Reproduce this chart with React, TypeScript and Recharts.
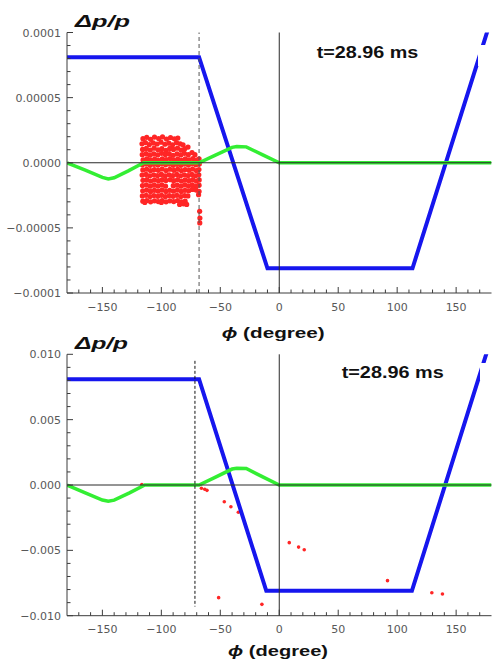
import React from "react";
import { ComposedChart, Line, Scatter, XAxis, YAxis, ReferenceLine } from "recharts";

// ---------------- axis ticks ----------------
const phiTicks = [
  -170, -160, -150, -140, -130, -120, -110, -100, -90, -80, -70, -60, -50, -40, -30, -20, -10,
  0, 10, 20, 30, 40, 50, 60, 70, 80, 90, 100, 110, 120, 130, 140, 150, 160, 170,
];
const phiMajor = [-150, -100, -50, 0, 50, 100, 150];
const phiLabels = ["−150", "−100", "−50", "0", "50", "100", "150"];

const topYTicks = [
  -0.0001, -0.00009, -0.00008, -0.00007, -0.00006, -0.00005, -0.00004, -0.00003, -0.00002, -0.00001,
  0, 0.00001, 0.00002, 0.00003, 0.00004, 0.00005, 0.00006, 0.00007, 0.00008, 0.00009, 0.0001,
];
const topYMajor = [-0.0001, -0.00005, 0, 0.00005, 0.0001];
const topYLabels = ["−0.0001", "−0.00005", "0.0000", "0.00005", "0.0001"];

const botYTicks = [
  -0.01, -0.009, -0.008, -0.007, -0.006, -0.005, -0.004, -0.003, -0.002, -0.001,
  0, 0.001, 0.002, 0.003, 0.004, 0.005, 0.006, 0.007, 0.008, 0.009, 0.01,
];
const botYMajor = [-0.01, -0.005, 0, 0.005, 0.01];
const botYLabels = ["−0.010", "−0.005", "0.000", "0.005", "0.010"];

// ---------------- top panel data (Δp/p) ----------------
const blueTopPhi = [-180, -68, -10, 113, 180];
const blueTopDpp = [0.000081, 0.000081, -0.000081, -0.000081, 0.000111];

const greenTopPhi = [-180, -165, -150, -145, -140, -128, -115, -68, -55, -40, -36, -28, -14, 0, 180];
const greenTopDpp = [
  0, -0.0000055, -0.0000112, -0.0000124, -0.0000115, -0.0000062, 0, 0, 0.0000055, 0.0000118,
  0.0000125, 0.0000122, 0.000006, 0, 0,
];

// red particles, [phi (deg), Δp/p × 1e5]
const redTopE5: [number, number][] = [
  [-115.6, 1.85], [-112.4, 1.95], [-109.1, 1.8], [-105.8, 1.97], [-102.3, 1.86], [-99, 1.98], [-95.6, 1.82], [-92.2, 1.94], [-88.9, 1.84], [-86, 1.9],
  [-116.4, 1.45], [-113.5, 1.55], [-110.2, 1.4], [-106.9, 1.52], [-103.6, 1.44], [-100.3, 1.58], [-97, 1.42], [-93.6, 1.5], [-90.4, 1.38], [-87.1, 1.55], [-84, 1.45], [-81.6, 1.38],
  [-115.9, 1.02], [-112.7, 1.1], [-109.4, 0.98], [-106.1, 1.12], [-102.8, 1.0], [-99.6, 1.08], [-96.2, 0.95], [-92.9, 1.1], [-89.7, 1.02], [-86.3, 1.12], [-83.2, 0.98], [-80.1, 1.08], [-77.4, 1.2],
  [-116.2, 0.62], [-112.9, 0.7], [-109.7, 0.58], [-106.4, 0.68], [-103.1, 0.6], [-99.8, 0.72], [-96.5, 0.64], [-93.3, 0.7], [-90, 0.57], [-86.7, 0.68], [-83.5, 0.6], [-80.4, 0.72], [-77.1, 0.62], [-74, 0.78], [-71.5, 0.62],
  [-115.5, 0.22], [-112.3, 0.3], [-109, 0.2], [-105.7, 0.28], [-102.5, 0.18], [-99.2, 0.3], [-95.9, 0.24], [-92.6, 0.32], [-89.4, 0.2], [-86.1, 0.28], [-82.9, 0.18], [-79.7, 0.3], [-76.5, 0.22], [-73.3, 0.32], [-70.2, 0.2], [-68, 0.3],
  [-116.1, -0.15], [-112.8, -0.1], [-109.5, -0.2], [-106.2, -0.12], [-102.9, -0.18], [-99.7, -0.08], [-96.4, -0.16], [-93.1, -0.1], [-89.9, -0.2], [-86.6, -0.12], [-83.4, -0.2], [-80.2, -0.1], [-77, -0.18], [-73.8, -0.08], [-70.7, -0.16], [-67.8, -0.1],
  [-115.7, -0.55], [-112.5, -0.5], [-109.2, -0.6], [-105.9, -0.52], [-102.6, -0.58], [-99.3, -0.48], [-96, -0.6], [-92.8, -0.5], [-89.5, -0.58], [-86.2, -0.5], [-83, -0.6], [-79.8, -0.52], [-76.6, -0.58], [-73.5, -0.48], [-70.4, -0.6], [-68.1, -0.52],
  [-116.3, -0.95], [-113, -0.9], [-109.8, -1.0], [-106.5, -0.92], [-103.2, -0.98], [-99.9, -0.9], [-96.7, -1.0], [-93.4, -0.92], [-90.2, -0.98], [-86.9, -0.9], [-83.7, -1.0], [-80.5, -0.92], [-77.3, -0.98], [-74.1, -0.9], [-71, -1.0], [-68.2, -0.92],
  [-115.6, -1.35], [-112.4, -1.3], [-109.1, -1.4], [-105.8, -1.32], [-102.5, -1.38], [-99.2, -1.3], [-96.1, -1.36], [-92.4, -1.3], [-89.5, -1.38], [-86.2, -1.3], [-83, -1.4], [-79.8, -1.32], [-76.6, -1.38], [-73.4, -1.3], [-70.3, -1.4], [-67.9, -1.32],
  [-116, -1.75], [-112.7, -1.7], [-109.4, -1.8], [-106.1, -1.72], [-102.9, -1.78], [-99.6, -1.7], [-96.4, -1.8], [-89.9, -1.76], [-86.6, -1.72], [-83.3, -1.8], [-80.1, -1.7], [-77, -1.78], [-73.8, -1.7], [-70.6, -1.8], [-68, -1.72],
  [-115.8, -2.15], [-112.5, -2.1], [-109.2, -2.2], [-105.9, -2.12], [-102.7, -2.18], [-99.4, -2.1], [-96.1, -2.2], [-92.9, -2.12], [-89.7, -2.18], [-86.4, -2.1], [-83.1, -2.2], [-79.9, -2.12], [-76.8, -2.15], [-73.6, -2.05], [-70.5, -2.1], [-68, -2.2],
  [-116.1, -2.55], [-112.9, -2.5], [-109.6, -2.6], [-106.3, -2.52], [-103, -2.58], [-99.8, -2.5], [-96.5, -2.6], [-93.2, -2.52], [-90, -2.58], [-86.8, -2.5], [-83.5, -2.6], [-80.3, -2.52], [-77.5, -2.55],
  [-115.7, -2.95], [-112.4, -2.9], [-109.1, -3.0], [-105.8, -2.92], [-102.6, -2.98], [-99.3, -2.9], [-96, -3.0], [-92.8, -2.92], [-89.5, -2.98], [-86.3, -2.9], [-83, -3.0], [-79.8, -2.95],
  [-84.5, -3.2], [-81.2, -3.15], [-78.5, -3.2], [-114, -3.05], [-100, -3.05],
  [-68.4, -2.45], [-67.5, -3.73], [-67.3, -4.25], [-67.4, -4.62],
];

const dashTopPhi = -68;

// ---------------- bottom panel data ----------------
const blueBotPhi = [-180, -68, -11, 112.5, 180];
const blueBotDpp = [0.0081, 0.0081, -0.0081, -0.0081, 0.0113];

const greenBotPhi = [-180, -165, -150, -145, -140, -127, -114, -68, -54, -40, -36, -28, -14, 0, 180];
const greenBotDpp = [
  0, -0.00058, -0.00115, -0.00124, -0.00116, -0.0006, 0, 0, 0.0006, 0.00122, 0.00128, 0.00126,
  0.00062, 0, 0,
];

const redBotPhi = [-116.5, -66, -63.2, -61.3, -46.6, -41, -34.7, -51.4, -14.7, 8.5, 16.4, 21.2, 91.8, 129.4, 138.4];
const redBotDpp = [
  0.00004, -0.00025, -0.00033, -0.00041, -0.00128, -0.00166, -0.00209, -0.00862, -0.00913, -0.00441,
  -0.00475, -0.00495, -0.00732, -0.00824, -0.00834,
];

const dashBotPhi = -71.5;
const dashBotFrom = 0.0095;
const dashBotTo = -0.0093;

// ---------------- styling ----------------
const FRAME = "#3c3c3c";
const BLUE = "#1616ee";
const GREEN = "#33ee33";
const RED = "#ff2626";
const TICK_TEXT = { fontFamily: "DejaVu Sans", fontSize: 11, fill: "#585858" } as const;

const zip = (xs: number[], ys: number[]) => xs.map((x, i) => ({ x, y: ys[i] }));
const findMajor = (v: number, majors: number[]) =>
  majors.findIndex((m) => Math.abs(m - v) <= Math.abs(m) * 1e-9 + 1e-15);

const bottomTick = (p: any) => {
  const i = findMajor(p.payload.value, phiMajor);
  return (
    <g>
      <line x1={p.x} x2={p.x} y1={p.y} y2={p.y - (i >= 0 ? 6 : 3.5)} stroke={FRAME} />
      {i >= 0 && (
        <text x={p.x} y={p.y + 17.5} textAnchor="middle" {...TICK_TEXT}>
          {phiLabels[i]}
        </text>
      )}
    </g>
  );
};
const topTick = (p: any) => {
  const i = findMajor(p.payload.value, phiMajor);
  return <line x1={p.x} x2={p.x} y1={p.y} y2={p.y + (i >= 0 ? 6 : 3.5)} stroke={FRAME} />;
};
const makeLeftTick = (majors: number[], labels: string[]) => (p: any) => {
  const i = findMajor(p.payload.value, majors);
  return (
    <g>
      <line x1={p.x} x2={p.x + (i >= 0 ? 6 : 3.5)} y1={p.y} y2={p.y} stroke={FRAME} />
      {i >= 0 && (
        <text x={p.x - 6} y={p.y + 4} textAnchor="end" {...TICK_TEXT}>
          {labels[i]}
        </text>
      )}
    </g>
  );
};
const makeRightTick = (majors: number[]) => (p: any) => {
  const i = findMajor(p.payload.value, majors);
  return <line x1={p.x} x2={p.x - (i >= 0 ? 6 : 3.5)} y1={p.y} y2={p.y} stroke={FRAME} />;
};

type Pt = { x: number; y: number };
type PanelProps = {
  top: number;
  height: number;
  marginTop: number;
  xAxisHeight: number;
  yDomain: [number, number];
  yTicks: number[];
  yMajor: number[];
  yLabels: string[];
  blue: Pt[];
  green: Pt[];
  red: Pt[];
  redR: number;
  dash: React.ReactNode;
};

function axes(p: PanelProps, visible: boolean) {
  const common = {
    type: "number" as const,
    allowDataOverflow: true,
    interval: 0 as const,
    tickSize: 0,
    tickMargin: 0,
    tickLine: false,
    axisLine: visible ? { stroke: FRAME } : false,
  };
  return [
    <XAxis key="xb" xAxisId="b" dataKey="x" domain={[-180, 180]} ticks={phiTicks} height={p.xAxisHeight} tick={visible ? bottomTick : false} {...common} />,
    <XAxis key="xt" xAxisId="t" orientation="top" domain={[-180, 180]} ticks={phiTicks} height={0} tick={visible ? topTick : false} {...common} />,
    <YAxis key="yl" yAxisId="l" dataKey="y" domain={p.yDomain} ticks={p.yTicks} width={67} tick={visible ? makeLeftTick(p.yMajor, p.yLabels) : false} {...common} />,
    <YAxis key="yr" yAxisId="r" orientation="right" domain={p.yDomain} ticks={p.yTicks} width={0} tick={visible ? makeRightTick(p.yMajor) : false} {...common} />,
  ];
}

function Panel(p: PanelProps) {
  const margin = { top: p.marginTop, right: 0.5, bottom: 0, left: 0 };
  return (
    <div style={{ position: "absolute", left: 0, top: p.top, width: 492, height: p.height }}>
      {/* back layer: particles */}
      <div style={{ position: "absolute", left: 0, top: 0 }}>
        <ComposedChart width={492} height={p.height} margin={margin}>
          {axes(p, false)}
          <Scatter
            xAxisId="b"
            yAxisId="l"
            data={p.red}
            dataKey="y"
            isAnimationActive={false}
            shape={(s: any) => <circle cx={s.cx} cy={s.cy} r={p.redR} fill={RED} />}
          />
        </ComposedChart>
      </div>
      {/* front layer: curves and frame */}
      <div style={{ position: "absolute", left: 0, top: 0 }}>
        <ComposedChart width={492} height={p.height} margin={margin}>
          {axes(p, true)}
          <Line xAxisId="b" yAxisId="l" data={p.blue} dataKey="y" type="linear" stroke={BLUE} strokeWidth={4} dot={false} activeDot={false} isAnimationActive={false} />
          <Line xAxisId="b" yAxisId="l" data={p.green} dataKey="y" type="linear" stroke={GREEN} strokeWidth={3.5} dot={false} activeDot={false} isAnimationActive={false} />
          <ReferenceLine xAxisId="b" yAxisId="l" y={0} stroke="#2a2a2a" strokeWidth={1} />
          <ReferenceLine xAxisId="b" yAxisId="l" x={0} stroke="#2a2a2a" strokeWidth={1} />
          {p.dash}
        </ComposedChart>
      </div>
    </div>
  );
}

export default function App() {
  const redTop = redTopE5.map(([x, y]) => ({ x, y: y * 1e-5 }));
  return (
    <div style={{ position: "absolute", left: 0, top: 0, width: 492, height: 663, background: "#fff", overflow: "hidden" }}>
      <Panel
        top={0}
        height={330}
        marginTop={32.5}
        xAxisHeight={37}
        yDomain={[-0.0001, 0.0001]}
        yTicks={topYTicks}
        yMajor={topYMajor}
        yLabels={topYLabels}
        blue={zip(blueTopPhi, blueTopDpp)}
        green={zip(greenTopPhi, greenTopDpp)}
        red={redTop}
        redR={2.6}
        dash={<ReferenceLine xAxisId="b" yAxisId="l" x={dashTopPhi} stroke="#555" strokeWidth={1} strokeDasharray="4 3" />}
      />
      <Panel
        top={330}
        height={333}
        marginTop={24.3}
        xAxisHeight={47.3}
        yDomain={[-0.01, 0.01]}
        yTicks={botYTicks}
        yMajor={botYMajor}
        yLabels={botYLabels}
        blue={zip(blueBotPhi, blueBotDpp)}
        green={zip(greenBotPhi, greenBotDpp)}
        red={zip(redBotPhi, redBotDpp)}
        redR={1.8}
        dash={
          <ReferenceLine
            xAxisId="b"
            yAxisId="l"
            segment={[
              { x: dashBotPhi, y: dashBotFrom },
              { x: dashBotPhi, y: dashBotTo },
            ]}
            stroke="#111"
            strokeWidth={1}
            strokeDasharray="3 2"
          />
        }
      />
      <svg width={492} height={663} style={{ position: "absolute", left: 0, top: 0, pointerEvents: "none" }}>
        <rect x={478} y={45} width={11} height={21} fill="#fff" />
        <rect x={480} y={363} width={9} height={17} fill="#fff" />
        <g fontFamily="Liberation Sans" fontWeight="bold" fill="#111">
          <text x={75} y={27.3} fontSize={16} fontStyle="italic" textLength={55} lengthAdjust="spacingAndGlyphs">Δp/p</text>
          <text x={75} y={348.5} fontSize={16} fontStyle="italic" textLength={53} lengthAdjust="spacingAndGlyphs">Δp/p</text>
          <text x={221.7} y={338} fontSize={15} textLength={103} lengthAdjust="spacingAndGlyphs">
            <tspan fontStyle="italic">ϕ</tspan> (degree)
          </text>
          <text x={228} y={656} fontSize={15} textLength={100} lengthAdjust="spacingAndGlyphs">
            <tspan fontStyle="italic">ϕ</tspan> (degree)
          </text>
          <text x={316.7} y={58.3} fontSize={16} textLength={101.6} lengthAdjust="spacingAndGlyphs">t=28.96 ms</text>
          <text x={341.7} y={378.3} fontSize={16} textLength={102} lengthAdjust="spacingAndGlyphs">t=28.96 ms</text>
        </g>
      </svg>
    </div>
  );
}
